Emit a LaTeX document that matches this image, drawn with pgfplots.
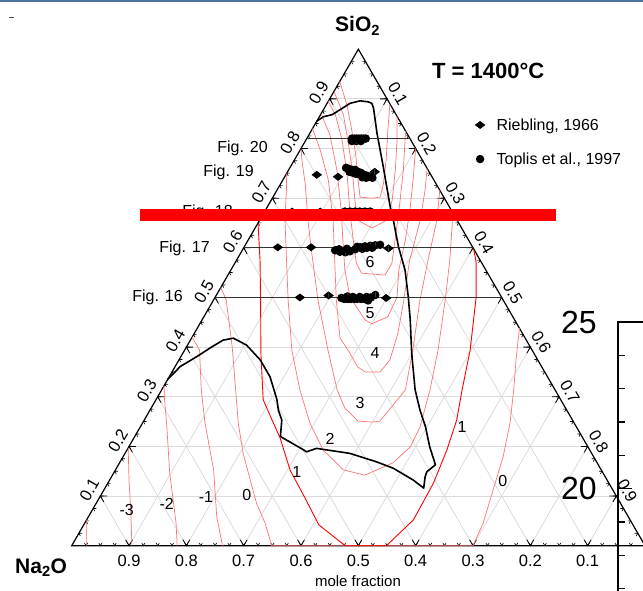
\documentclass[border=0pt]{standalone}
\usepackage{pgfplots}
\pgfplotsset{compat=1.18}
\usepackage{fontspec}
\setmainfont{Liberation Sans}
\usetikzlibrary{plotmarks}
\newcommand\fs[1]{\fontsize{#1}{#1}\selectfont}

\begin{document}
\begin{tikzpicture}[x=1pt,y=-1pt]
\useasboundingbox (0,0) rectangle (643,591);
\clip (0,0) rectangle (643,591);
\fill[white] (0,0) rectangle (643,591);
\draw[color={rgb,255:red,79;green,113;blue,158}, line width=2pt] (0,1.2) -- (643,1.2);
\draw[black!70, line width=0.9pt] (9,17.5) -- (14,17.5);

% ternary frame: coordinates are (Al2O3, SiO2) mole fractions
\begin{scope}[shift={(71.7,545.7)}, x={(573.3pt,0pt)}, y={(286.65pt,496.5pt)}]
  \foreach \t in {0.1,0.2,...,0.95} {
    \draw[black!14, line width=0.8pt] (0,\t) -- ({1-\t},\t);
    \draw[black!14, line width=0.8pt] (\t,0) -- (\t,{1-\t});
    \draw[black!14, line width=0.8pt] (\t,0) -- (0,\t);
  }
  \draw[black, line width=1.2pt] (0,0) -- (1,0) -- (0,1) -- cycle;
  \foreach \t in {0.025,0.05,...,0.99} {
    \draw[black, line width=0.6pt] ({\t-0.0055},0.0055) -- (\t,0) -- (\t,0.0055);
    \draw[black, line width=0.6pt] (0.0055,\t) -- (0,\t) -- (0.0055,{\t-0.0055});
    \draw[black, line width=0.6pt] ({1-\t-0.0055},\t) -- ({1-\t},\t) -- ({1-\t},{\t-0.0055});
  }
  \foreach \t in {0.1,0.2,...,0.95} {
    \draw[black, line width=0.8pt] ({\t-0.012},0.012) -- (\t,0) -- (\t,0.012);
    \draw[black, line width=0.8pt] (0.012,\t) -- (0,\t) -- (0.012,{\t-0.012});
    \draw[black, line width=0.8pt] ({1-\t-0.012},\t) -- ({1-\t},\t) -- ({1-\t},{\t-0.012});
  }
\end{scope}

\begin{axis}[
  at={(71.7pt,-545.7pt)}, anchor=origin,
  x={(573.3pt,0pt)}, y={(286.65pt,496.5pt)},
  xmin=0, xmax=1, ymin=0, ymax=1,
  hide axis, clip=false,
  cont/.style={red!55, line width=0.7pt, line join=round, forget plot},
  legend style={at={(axis cs:0.272,0.864)}, anchor=north west, draw=none, fill=none,
    font=\fs{16}, row sep=18pt, inner sep=0pt, nodes={inner sep=1.5pt}},
  legend cell align=left,
  legend image code/.code={\path[draw=none, fill=none] (-4pt,-3pt) rectangle (15pt,3pt); \draw[#1] plot[only marks] coordinates {(0pt,0pt)};},
]
% iso-lines
\addplot[cont] coordinates {(0.026,0) (0,0.052)};
\addplot[cont] coordinates {(0.105,0) (0.067,0.072) (0.034,0.132) (0,0.197)};
\addplot[cont] coordinates {(0.184,0) (0.159,0.046) (0.098,0.146) (0.042,0.247) (0.015,0.294) (0,0.322)};
\addplot[cont] coordinates {(0.263,0) (0.224,0.058) (0.171,0.153) (0.109,0.247) (0.069,0.314) (0.026,0.394) (0,0.42)};
\addplot[cont] coordinates {(0,0.52) (0.022,0.495) (0.080,0.40) (0.129,0.314) (0.167,0.247) (0.206,0.186) (0.255,0.119) (0.28,0.085) (0.315,0.045) (0.349,0) (0.70,0) (0.695,0.045) (0.679,0.112) (0.663,0.179) (0.641,0.247) (0.614,0.314) (0.588,0.374) (0.562,0.438)};
\addplot[cont] coordinates {(0,0.75) (0.016,0.717) (0.044,0.656) (0.076,0.596) (0.130,0.495) (0.187,0.394) (0.241,0.314) (0.292,0.247) (0.342,0.193) (0.397,0.153) (0.440,0.142) (0.477,0.167) (0.491,0.199) (0.488,0.239) (0.468,0.314) (0.442,0.394) (0.404,0.495) (0.372,0.575) (0.33,0.67)};
\addplot[cont] coordinates {(0,0.80) (0.013,0.777) (0.044,0.727) (0.084,0.656) (0.120,0.596) (0.182,0.495) (0.250,0.394) (0.306,0.314) (0.338,0.277) (0.374,0.251) (0.399,0.249) (0.412,0.251) (0.419,0.283) (0.425,0.314) (0.398,0.394) (0.360,0.495) (0.334,0.575) (0.309,0.656) (0.284,0.716)};
\addplot[cont] coordinates {(0,0.84) (0.035,0.797) (0.079,0.737) (0.128,0.656) (0.160,0.596) (0.214,0.495) (0.259,0.418) (0.285,0.394) (0.319,0.360) (0.337,0.350) (0.363,0.350) (0.368,0.374) (0.355,0.428) (0.334,0.489) (0.302,0.575) (0.280,0.656) (0.258,0.717) (0.24,0.76)};
\addplot[cont] coordinates {(0,0.87) (0.037,0.827) (0.084,0.757) (0.132,0.676) (0.165,0.616) (0.199,0.555) (0.235,0.501) (0.269,0.469) (0.284,0.455) (0.300,0.447) (0.321,0.461) (0.317,0.501) (0.293,0.555) (0.274,0.616) (0.252,0.676) (0.227,0.737) (0.2,0.8)};
\addplot[cont] coordinates {(0,0.895) (0.026,0.868) (0.063,0.817) (0.107,0.747) (0.147,0.676) (0.183,0.616) (0.212,0.569) (0.231,0.549) (0.274,0.545) (0.274,0.569) (0.256,0.616) (0.233,0.676) (0.200,0.757) (0.173,0.817) (0.165,0.835)};
\addplot[cont] coordinates {(0,0.915) (0.040,0.868) (0.073,0.817) (0.111,0.757) (0.146,0.696) (0.170,0.656) (0.204,0.640) (0.222,0.656) (0.211,0.696) (0.186,0.757) (0.159,0.817) (0.135,0.865)};
\addplot[cont] coordinates {(0,0.935) (0.036,0.888) (0.070,0.837) (0.102,0.787) (0.131,0.737) (0.152,0.702) (0.174,0.700) (0.187,0.702) (0.180,0.727) (0.160,0.777) (0.133,0.837) (0.11,0.89)};
\addplot[red, line width=0.9pt, line join=round, forget plot] coordinates {(0,0.65) (0.041,0.575) (0.082,0.495) (0.136,0.388) (0.187,0.294) (0.223,0.253) (0.255,0.217) (0.305,0.152) (0.36,0.095) (0.41,0.042) (0.477,0) (0.549,0) (0.570,0.052) (0.568,0.126) (0.558,0.193) (0.545,0.253) (0.524,0.314) (0.498,0.394) (0.455,0.501) (0.42,0.571) (0.402,0.598)};
% liquidus boundary at 1400 C
\addplot[black, line width=1.6pt, line join=round, forget plot] coordinates {(0,0.335) (0.009,0.361) (0.028,0.381) (0.042,0.398) (0.057,0.414) (0.073,0.418) (0.103,0.404) (0.142,0.374) (0.176,0.340) (0.211,0.294) (0.224,0.273) (0.240,0.253) (0.254,0.220) (0.308,0.193) (0.315,0.189) (0.329,0.196) (0.392,0.186) (0.447,0.169) (0.483,0.156) (0.530,0.132) (0.556,0.116) (0.547,0.139) (0.545,0.149) (0.553,0.163) (0.525,0.199) (0.497,0.240) (0.471,0.273) (0.442,0.314) (0.399,0.388) (0.363,0.455) (0.336,0.502) (0.304,0.555) (0.269,0.602) (0.233,0.656) (0.214,0.683) (0.162,0.763) (0.117,0.831) (0.086,0.881) (0.078,0.891) (0.070,0.894) (0.055,0.896) (0.040,0.891) (0.029,0.878) (0.020,0.868) (0.007,0.864) (0,0.855)};
% constant-silica sections
\addplot[black!80, line width=1.1pt, forget plot] coordinates {(0,0.82) (0.18,0.82)};
\addplot[black!80, line width=1.1pt, forget plot] coordinates {(0,0.673) (0.327,0.673)};
\addplot[black!80, line width=1.1pt, forget plot] coordinates {(0,0.6) (0.4,0.6)};
\addplot[black!80, line width=1.1pt, forget plot] coordinates {(0,0.5) (0.5,0.5)};
% measurements
\addplot[only marks, mark=halfdiamond*, mark size=4.6pt, mark color=black, mark options={draw=black, fill=black, rotate=90, line width=0.8pt}]
 coordinates {(0.054,0.747) (0.093,0.743) (0.152,0.753) (0.048,0.673) (0.097,0.673) (0.059,0.601) (0.117,0.601) (0.253,0.599) (0.148,0.500) (0.196,0.504) (0.299,0.499)};
\addlegendentry{Riebling, 1966}
\addplot[only marks, mark=halfcircle*, mark size=3.8pt, mark color=black, mark options={draw=black, fill=black, rotate=90, line width=0.8pt}]
 coordinates {(0.079,0.82) (0.083,0.82) (0.087,0.82) (0.091,0.82) (0.095,0.82) (0.099,0.82) (0.103,0.82) (0.081,0.815) (0.089,0.815) (0.097,0.815)
 (0.098,0.761) (0.104,0.759) (0.111,0.757) (0.116,0.757) (0.123,0.753) (0.129,0.751) (0.137,0.747) (0.143,0.745) (0.149,0.743) (0.154,0.741) (0.115,0.751) (0.130,0.747) (0.143,0.741) (0.108,0.753) (0.121,0.749) (0.136,0.742)
 (0.140,0.673) (0.149,0.673) (0.158,0.673) (0.166,0.673) (0.175,0.673) (0.184,0.673)
 (0.162,0.595) (0.172,0.592) (0.182,0.591) (0.189,0.593) (0.196,0.597) (0.203,0.601) (0.210,0.603) (0.219,0.604) (0.227,0.605) (0.235,0.606) (0.181,0.598) (0.197,0.602) (0.208,0.598) (0.224,0.600) (0.168,0.597) (0.215,0.600)
 (0.221,0.499) (0.227,0.497) (0.233,0.497) (0.238,0.497) (0.244,0.497) (0.249,0.497) (0.256,0.497) (0.262,0.497) (0.267,0.497) (0.272,0.500) (0.277,0.505) (0.240,0.501) (0.252,0.501) (0.264,0.501) (0.230,0.502) (0.270,0.494)};
\addlegendentry{Toplis et al., 1997}
\end{axis}

% axis tick labels
\foreach \v in {1,...,9} {
  \node[inner sep=0pt, rotate=60, font=\fs{16.5}] at ({71.7+28.665*\v-11},{545.7-49.65*\v-6}) {0.\v};
  \node[inner sep=0pt, rotate=-60, font=\fs{16.5}] at ({358.35+28.665*\v+11},{49.2+49.65*\v-5}) {0.\v};
  \node[inner sep=0pt, font=\fs{16.5}] at ({645-57.33*\v},561) {0.\v};
}
\node[inner sep=0pt, font=\fs{15}] at (358,581) {mole fraction};
\node[inner sep=0pt, anchor=base west, font=\bfseries\fs{21}] at (15,573.5) {Na\textsubscript{2}O};
\node[inner sep=0pt, anchor=base west, font=\bfseries\fs{21}] at (335,32) {SiO\textsubscript{2}};
\node[inner sep=0pt, anchor=base west, font=\bfseries\fs{22}] at (432,79) {T = 1400°C};

% section labels
\begin{scope}[every node/.style={inner sep=0pt, anchor=east, font=\fs{16}}]
  \node at (268,148) {Fig. 20};
  \node at (254,172) {Fig. 19};
  \node at (233,212) {Fig. 18};
  \node at (210,248) {Fig. 17};
  \node at (183,297) {Fig. 16};
\end{scope}

% iso-line values
\begin{scope}[every node/.style={inner sep=0pt, font=\fs{16}}]
  \node at (126.7,510) {-3};
  \node at (166.7,504.3) {-2};
  \node at (206,497.3) {-1};
  \node at (246.7,495) {0};
  \node at (296.7,471.7) {1};
  \node at (330,439.3) {2};
  \node at (360,403.3) {3};
  \node at (375,353.3) {4};
  \node at (370,313.3) {5};
  \node at (370,261.7) {6};
  \node at (462,426.7) {1};
  \node at (502.7,480.7) {0};
\end{scope}

% neighbouring panel
\begin{axis}[
  at={(618.3pt,-322pt)}, anchor=north west, scale only axis,
  width=200pt, height=300pt, xmin=0, xmax=1, ymin=16, ymax=25,
  xtick=\empty, ytick={20,25}, minor ytick={16,...,24},
  tick align=inside, major tick length=14pt, minor tick length=7pt,
  axis line style={line width=2pt}, every tick/.style={black, line width=1.5pt},
  yticklabel style={font=\fs{32}, xshift=-18pt},
  /pgf/number format/assume math mode=true,
]
\end{axis}

\fill[red] (140,209.3) rectangle (556,220.7);
\end{tikzpicture}
\end{document}
